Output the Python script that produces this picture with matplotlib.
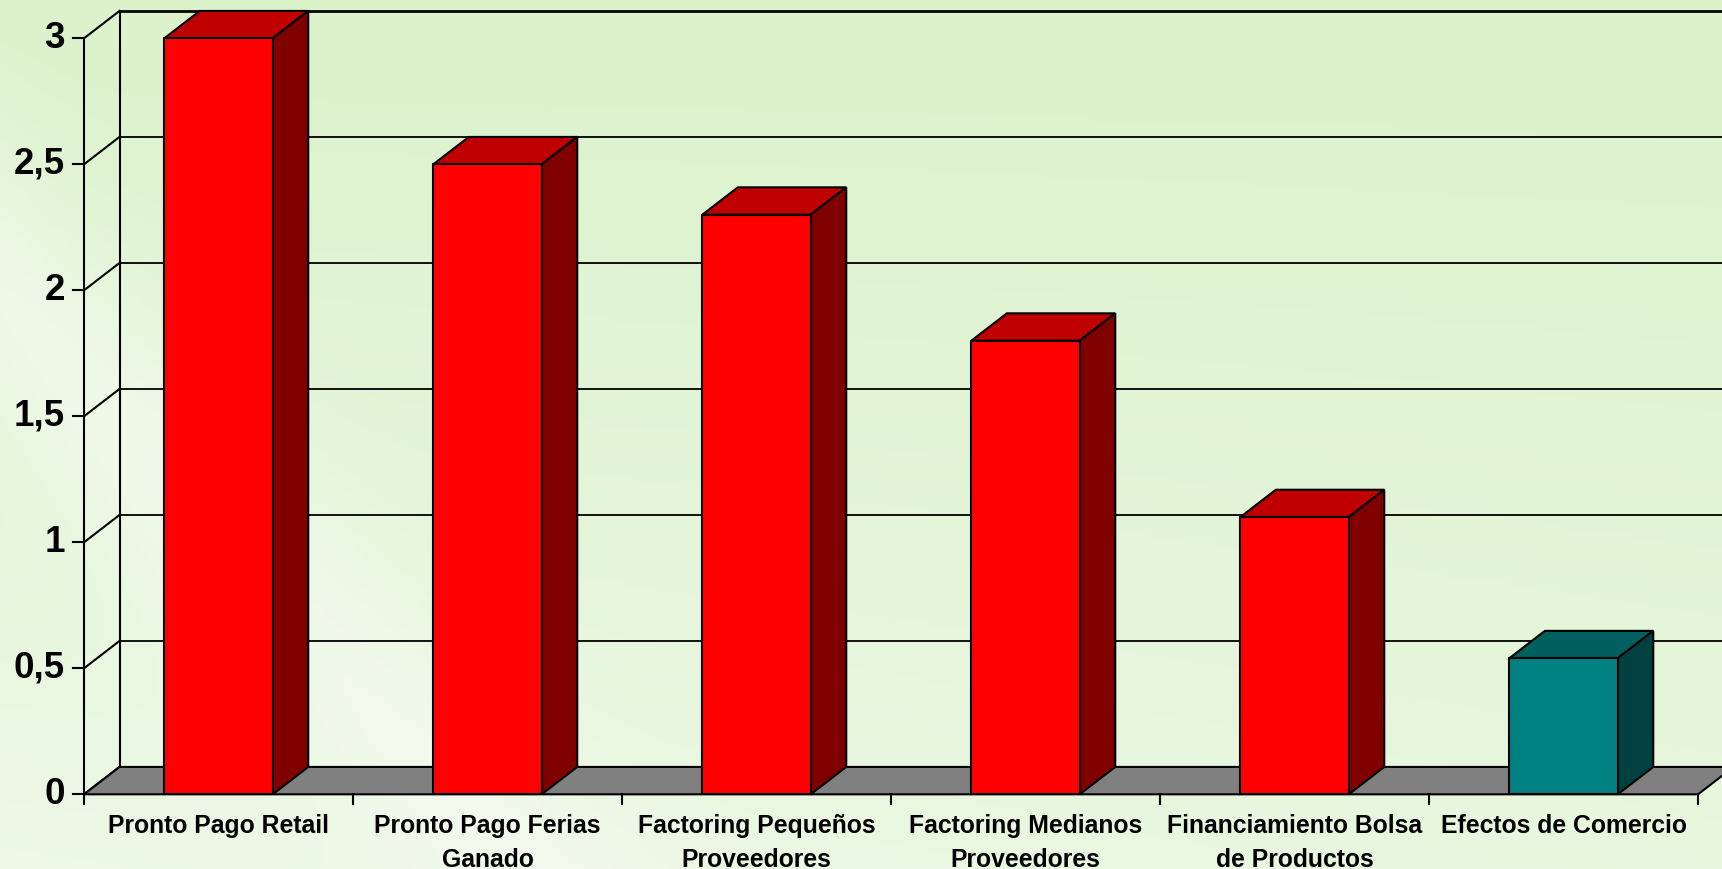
import numpy as np
import matplotlib
matplotlib.use("Agg")
import matplotlib.pyplot as plt

# ---- data ----
categories = ["Pronto Pago Retail", "Pronto Pago Ferias\nGanado",
              "Factoring Pequeños\nProveedores", "Factoring Medianos\nProveedores",
              "Financiamiento Bolsa\nde Productos", "Efectos de Comercio"]
values = [3.0, 2.5, 2.3, 1.8, 1.1, 0.54]
y_ticks = [0, 0.5, 1, 1.5, 2, 2.5, 3]
y_tick_labels = ["0", "0,5", "1", "1,5", "2", "2,5", "3"]
front_colors = ["#FF0000"] * 5 + ["#008080"]
top_colors = ["#C00000"] * 5 + ["#006060"]
side_colors = ["#800000"] * 5 + ["#004040"]

# ---- figure ----
W, H = 1722, 869
fig = plt.figure(figsize=(W / 100, H / 100), dpi=100)
ax = fig.add_axes([0, 0, 1, 1])
ax.set_axis_off()

xl = (-0.8123, 5.589)
yl = (-0.2964, 3.152)
ax.set_xlim(*xl)
ax.set_ylim(*yl)

# background gradient
ny, nx = 200, 400
yy, xx = np.mgrid[0:1:ny * 1j, 0:1:nx * 1j]  # yy: 0 top -> 1 bottom
c_top = np.array([219, 242, 203]) / 255
c_light = np.array([242, 250, 238]) / 255
t = np.clip(0.55 * yy + 0.25 * (1 - xx) * yy, 0, 1)
img = c_top[None, None, :] * (1 - t[..., None]) + c_light[None, None, :] * t[..., None]
d = (xx * 1.0 + (1 - yy) * 0.45)
band = np.exp(-((d - 0.30) / 0.08) ** 2) * 0.6
img = img * (1 - band[..., None]) + np.array([245, 251, 242])[None, None, :] / 255 * band[..., None]
ax.imshow(img, extent=[xl[0], xl[1], yl[0], yl[1]], aspect="auto", zorder=0)

n = len(values)
dx, dy = 0.132, 0.1086
x0, x1 = -0.5, n - 0.5
lw = 1.5
top_v = max(y_ticks)

# back wall gridlines
for v in y_ticks[1:]:
    ax.plot([x0 + dx, xl[1] + 1], [v + dy, v + dy], color="black",
            lw=2.0 if v == top_v else 1.3, zorder=1, solid_capstyle="butt")
ax.plot([x0 + dx, x0 + dx], [dy, top_v + dy], color="black", lw=lw, zorder=1)
for v in y_ticks:
    ax.plot([x0, x0 + dx], [v, v + dy], color="black", lw=lw, zorder=1)

# floor
ax.fill([x0, x1, x1 + dx, x0 + dx], [0, 0, dy, dy], facecolor="#808080",
        edgecolor="black", lw=lw, zorder=2)

# front axis and ticks
ax.plot([x0, x0], [0, top_v], color="black", lw=lw, zorder=3)
tick_dx = 11 / 269
for v, lab in zip(y_ticks, y_tick_labels):
    ax.plot([x0 - tick_dx, x0], [v, v], color="black", lw=lw, zorder=3)
    ax.text(x0 - 19 / 269, v, lab, ha="right", va="center", fontsize=26.5,
            fontweight="bold", family="Liberation Sans", color="black")
tick_dy = 10 / 252
for i in range(n + 1):
    ax.plot([x0 + i, x0 + i], [0, -tick_dy], color="black", lw=lw, zorder=3)

# bars
xs = np.arange(n)
w = 0.403
ax.bar(xs, values, width=w, color=front_colors, edgecolor="black", lw=lw, zorder=5)
for x, v, ct, cs in zip(xs, values, top_colors, side_colors):
    l, r = x - w / 2, x + w / 2
    ax.fill([l, r, r + dx, l + dx], [v, v, v + dy, v + dy], facecolor=ct,
            edgecolor="black", lw=lw, zorder=4)
    ax.fill([r, r + dx, r + dx, r], [0, dy, v + dy, v], facecolor=cs,
            edgecolor="black", lw=lw, zorder=4)

# category labels
for x, lab in zip(xs, categories):
    ax.text(x, -0.078, lab, ha="center", va="top", fontsize=17.8,
            fontweight="bold", family="Liberation Sans", color="black",
            linespacing=1.55)

fig.savefig("out.png", dpi=100)
